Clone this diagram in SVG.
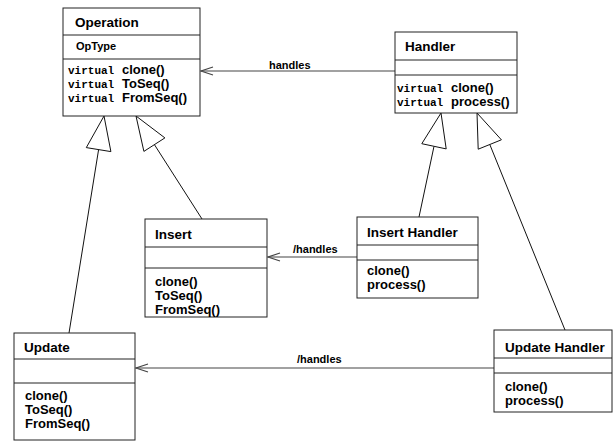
<svg xmlns="http://www.w3.org/2000/svg" width="615" height="441" viewBox="0 0 615 441">
<style>
.box{fill:#fff;stroke:#222;stroke-width:1}
.t{font-family:"Liberation Sans",Arial,sans-serif;font-weight:bold;font-size:13.5px;fill:#000}
.m{font-family:"Liberation Sans",Arial,sans-serif;font-weight:bold;font-size:13px;fill:#000}
.s{font-family:"Liberation Sans",Arial,sans-serif;font-weight:bold;font-size:11px;fill:#000}
.v{font-family:"Liberation Mono","Courier New",monospace;font-weight:bold;font-size:11px;fill:#000}
.assoc{stroke:#444;stroke-width:1.2;fill:none}
.gen{stroke:#111;stroke-width:1;fill:none}
.tri{stroke:#111;stroke-width:1;fill:#fff}
</style>
<defs>
<marker id="open" markerWidth="14" markerHeight="10" refX="13" refY="5" orient="auto" markerUnits="userSpaceOnUse" overflow="visible">
<path d="M1,1 L13,5 L1,9" fill="none" stroke="#444" stroke-width="1.2"/>
</marker>
</defs>
<g id="connectors">
<line class="assoc" x1="395" y1="71" x2="201" y2="71" marker-end="url(#open)"/>
<text class="s" x="269" y="69">handles</text>
<line class="assoc" x1="357" y1="257" x2="268" y2="257" marker-end="url(#open)"/>
<text class="s" x="293" y="253">/handles</text>
<line class="assoc" x1="494" y1="368" x2="136" y2="368" marker-end="url(#open)"/>
<text class="s" x="297" y="363">/handles</text>
<line class="gen" x1="69" y1="333" x2="98.6" y2="149.6"/>
<polygon class="tri" points="104,116 110.9,151.6 86.3,147.6"/>
<line class="gen" x1="202" y1="219" x2="154.4" y2="144.6"/>
<polygon class="tri" points="136,116 164.9,137.9 143.9,151.4"/>
<line class="gen" x1="419" y1="217" x2="434" y2="146.3"/>
<polygon class="tri" points="441,113 446.2,148.9 421.8,143.7"/>
<line class="gen" x1="565" y1="330" x2="489.8" y2="144.5"/>
<polygon class="tri" points="477,113 501.4,139.8 478.2,149.2"/>
</g>
<g id="operation">
<rect class="box" x="63" y="8" width="137" height="108"/>
<line class="box" x1="63" y1="35" x2="200" y2="35"/>
<line class="box" x1="63" y1="59" x2="200" y2="59"/>
<text class="t" x="75" y="27">Operation</text>
<text class="s" x="76" y="50">OpType</text>
<text class="v" x="68" y="74">virtual</text><text class="m" x="122" y="74">clone()</text>
<text class="v" x="68" y="88">virtual</text><text class="m" x="122" y="88">ToSeq()</text>
<text class="v" x="68" y="102">virtual</text><text class="m" x="122" y="102">FromSeq()</text>
</g>
<g id="handler">
<rect class="box" x="395" y="32" width="122" height="81"/>
<line class="box" x1="395" y1="60" x2="517" y2="60"/>
<line class="box" x1="395" y1="75" x2="517" y2="75"/>
<text class="t" x="405" y="51">Handler</text>
<text class="v" x="397" y="92">virtual</text><text class="m" x="451" y="92">clone()</text>
<text class="v" x="397" y="106">virtual</text><text class="m" x="451" y="106">process()</text>
</g>
<g id="insert">
<rect class="box" x="145" y="219" width="122" height="98"/>
<line class="box" x1="145" y1="247" x2="267" y2="247"/>
<line class="box" x1="145" y1="268" x2="267" y2="268"/>
<text class="t" x="155" y="239">Insert</text>
<text class="m" x="155" y="286">clone()</text>
<text class="m" x="155" y="300">ToSeq()</text>
<text class="m" x="155" y="314">FromSeq()</text>
</g>
<g id="insert-handler">
<rect class="box" x="357" y="217" width="121" height="81"/>
<line class="box" x1="357" y1="245" x2="478" y2="245"/>
<line class="box" x1="357" y1="260" x2="478" y2="260"/>
<text class="t" x="367" y="237">Insert Handler</text>
<text class="m" x="367" y="275">clone()</text>
<text class="m" x="367" y="289">process()</text>
</g>
<g id="update">
<rect class="box" x="14" y="333" width="121" height="107"/>
<line class="box" x1="14" y1="359" x2="135" y2="359"/>
<line class="box" x1="14" y1="383" x2="135" y2="383"/>
<text class="t" x="24" y="352">Update</text>
<text class="m" x="25" y="400">clone()</text>
<text class="m" x="25" y="414">ToSeq()</text>
<text class="m" x="25" y="428">FromSeq()</text>
</g>
<g id="update-handler">
<rect class="box" x="494" y="330" width="118" height="82"/>
<line class="box" x1="494" y1="358" x2="612" y2="358"/>
<line class="box" x1="494" y1="373" x2="612" y2="373"/>
<text class="t" x="505" y="352">Update Handler</text>
<text class="m" x="505" y="391">clone()</text>
<text class="m" x="505" y="405">process()</text>
</g>
</svg>
